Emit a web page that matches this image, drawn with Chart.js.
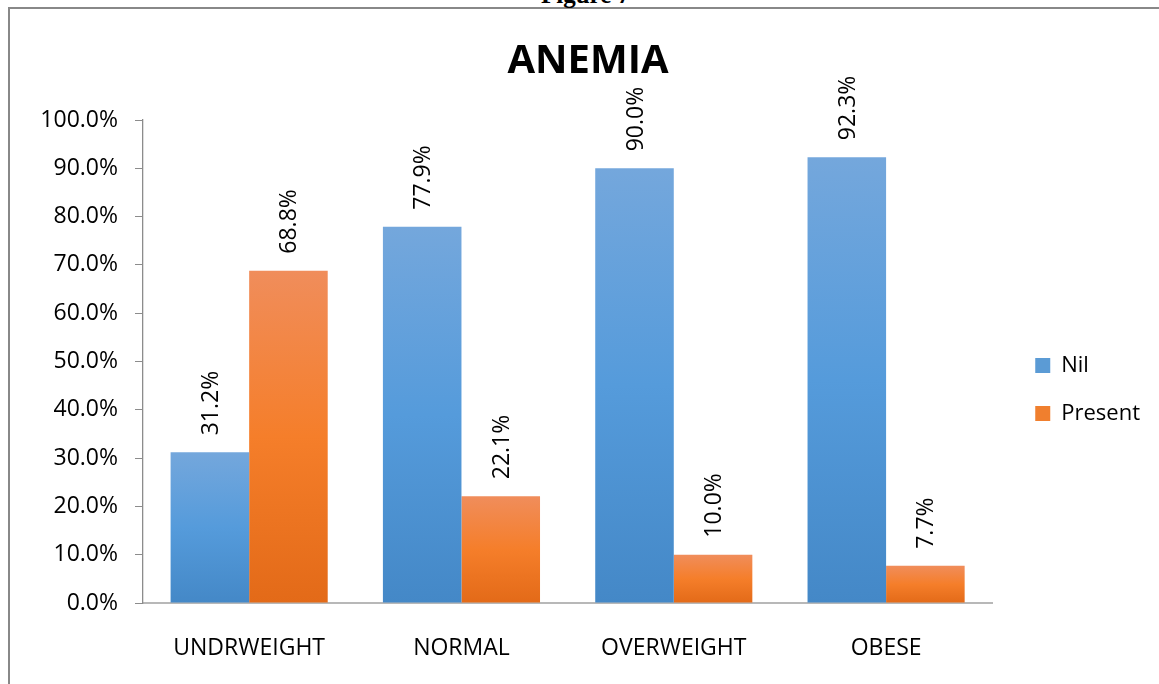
<!DOCTYPE html>
<html>
<head>
<meta charset="utf-8">
<script src="https://cdn.jsdelivr.net/npm/chart.js@4.4.1/dist/chart.umd.min.js"></script>
<style>
  html, body { margin: 0; padding: 0; background: #fff; overflow: hidden; }
  #page { position: relative; width: 1159px; height: 684px; overflow: hidden; background: #fff; }
  #frame { position: absolute; left: 8px; top: 7px; right: -20px; bottom: -20px;
           border-left: 2.5px solid #888; border-top: 2.5px solid #888; }
  #caption { position: absolute; left: 541px; top: -18px; font: bold 25px "Liberation Serif", serif;
             line-height: 25px; color: #000; white-space: nowrap; }
  #wrap { position: absolute; left: 0; top: 0; width: 1159px; height: 684px; }
</style>
</head>
<body>
<div id="page">
  <div id="frame"></div>
  <div id="caption">Figure 7</div>
  <div id="wrap"><canvas id="chart" width="1159" height="684"></canvas></div>
</div>
<script>
// Anemia prevalence by BMI category (%)
const categories = ['UNDRWEIGHT', 'NORMAL', 'OVERWEIGHT', 'OBESE'];
const seriesNames = ['Nil', 'Present'];
const nilValues = [31.2, 77.9, 90.0, 92.3];
const presentValues = [68.8, 22.1, 10.0, 7.7];

// Vertical gradient stops (top, middle, bottom) per series
const nilStops = ['#74a7dc', '#559bdb', '#4488c7'];
const presentStops = ['#f08d5b', '#f57e2a', '#e36a18'];
const legendColors = ['#5b9bd5', '#f07f2e'];

function barGradient(stops, fallback) {
  return (ctx) => {
    const chart = ctx.chart;
    const y = chart.scales && chart.scales.y;
    if (ctx.type !== 'data' || !y || !chart.chartArea) return fallback;
    const top = y.getPixelForValue(ctx.raw);
    const base = y.getPixelForValue(0);
    if (!isFinite(top) || !isFinite(base) || Math.abs(base - top) < 1) return fallback;
    const g = chart.ctx.createLinearGradient(0, top, 0, base);
    g.addColorStop(0, stops[0]);
    g.addColorStop(0.5, stops[1]);
    g.addColorStop(1, stops[2]);
    return g;
  };
}

const pct = (v) => Number(v).toFixed(1) + '%';

// Rotated value labels above each bar
const valueLabels = {
  id: 'valueLabels',
  afterDatasetsDraw(chart) {
    const ctx = chart.ctx;
    ctx.save();
    ctx.font = '23px "Open Sans"';
    ctx.fillStyle = '#000';
    ctx.textAlign = 'left';
    ctx.textBaseline = 'middle';
    chart.data.datasets.forEach((ds, di) => {
      chart.getDatasetMeta(di).data.forEach((bar, i) => {
        ctx.save();
        ctx.translate(bar.x + 1.5, bar.y - 17);
        ctx.rotate(-Math.PI / 2);
        ctx.fillText(pct(ds.data[i]), 0, 0);
        ctx.restore();
      });
    });
    ctx.restore();
  }
};

// Centre the title over the frame and set the legend a little apart from the plot
const blockPlacement = {
  id: 'blockPlacement',
  afterLayout(chart) {
    const t = chart.titleBlock;
    if (t) {
      const dx = 588 - (t.left + t.right) / 2;
      t.left += dx; t.right += dx;
    }
    const lg = chart.legend;
    if (lg) {
      const dx = chart.chartArea.right + 17 - lg.left;
      lg.left += dx; lg.right += dx;
      lg.top += 28; lg.bottom += 28;
    }
  }
};

new Chart(document.getElementById('chart'), {
  type: 'bar',
  data: {
    labels: categories,
    datasets: [
      { label: seriesNames[0], data: nilValues,
        backgroundColor: barGradient(nilStops, legendColors[0]),
        categoryPercentage: 0.74, barPercentage: 1.0, borderWidth: 0 },
      { label: seriesNames[1], data: presentValues,
        backgroundColor: barGradient(presentStops, legendColors[1]),
        categoryPercentage: 0.74, barPercentage: 1.0, borderWidth: 0 }
    ]
  },
  options: {
    responsive: false,
    animation: false,
    layout: { padding: { left: 0, right: 26, top: 13, bottom: 0 } },
    plugins: {
      title: {
        display: true,
        text: 'ANEMIA',
        color: '#000',
        font: { family: 'Open Sans', size: 40, weight: 'bold', lineHeight: 1.2 },
        padding: { top: 25, bottom: 34 }
      },
      legend: {
        position: 'right',
        fullSize: false,
        labels: {
          boxWidth: 15,
          boxHeight: 15,
          padding: 26,
          color: '#000',
          font: { family: 'Open Sans', size: 22 },
          generateLabels(chart) {
            const items = Chart.defaults.plugins.legend.labels.generateLabels(chart);
            items.forEach((it, i) => {
              it.fillStyle = legendColors[i];
              it.strokeStyle = legendColors[i];
              it.lineWidth = 0;
            });
            return items;
          }
        }
      },
      tooltip: { enabled: false }
    },
    scales: {
      x: {
        afterFit(scale) { scale.height = 81; },
        grid: { display: false, drawTicks: false },
        border: { display: true, color: '#b8b8b8', width: 2 },
        ticks: { color: '#000', padding: 32, font: { family: 'Open Sans', size: 23 } }
      },
      y: {
        min: 0,
        max: 100,
        afterFit(scale) { scale.width = 143; },
        grid: { display: true, drawOnChartArea: false, drawTicks: true, tickLength: 8, color: '#8c8c8c' },
        border: { display: true, color: '#8c8c8c', width: 1.3 },
        ticks: {
          stepSize: 10,
          color: '#000',
          padding: 17,
          font: { family: 'Open Sans', size: 23 },
          callback: (v) => pct(v)
        }
      }
    }
  },
  plugins: [valueLabels, blockPlacement]
});
</script>
</body>
</html>
